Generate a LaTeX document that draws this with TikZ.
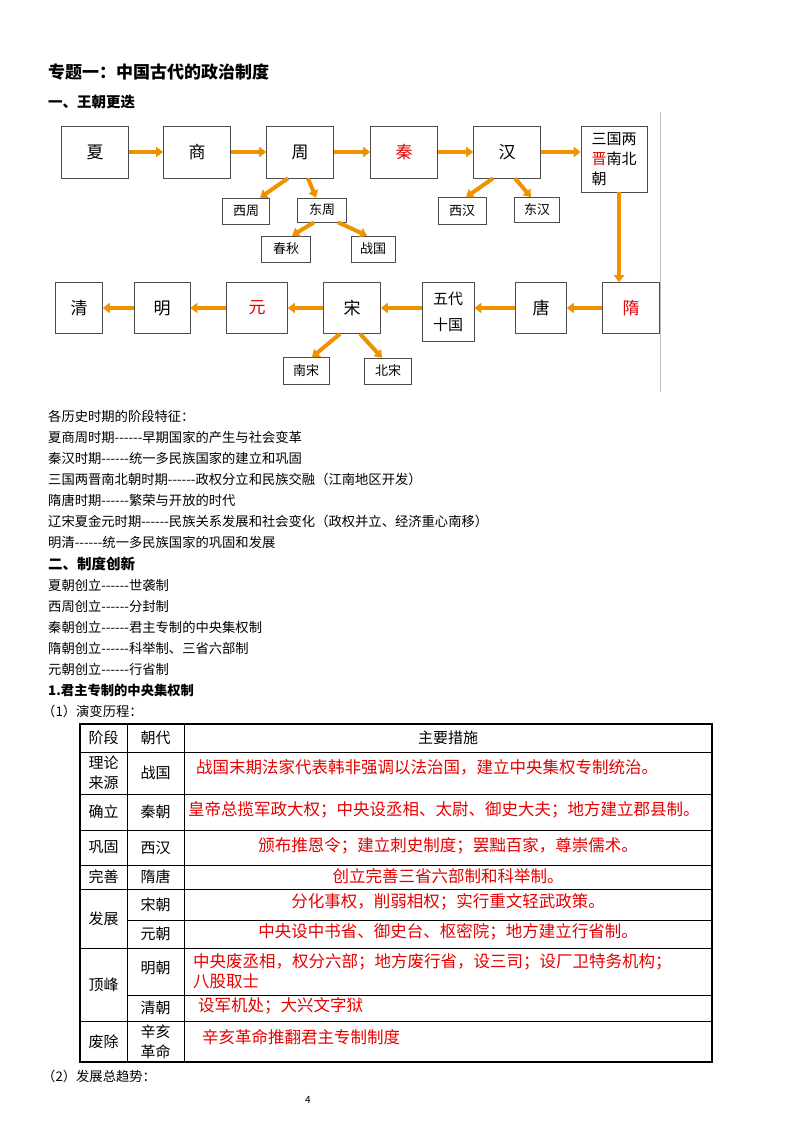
\documentclass[tikz,border=0pt]{standalone}
\usepackage{fontspec}
\setmainfont{Noto Sans CJK SC}
\usetikzlibrary{arrows.meta}
\definecolor{Arrow}{RGB}{238,146,0}
\definecolor{Ink}{RGB}{230,0,0}
\newcommand\dashrun{-{}-{}-{}-{}-{}-}
\tikzset{
  dbox/.style={draw=black!70, line width=0.6pt, inner sep=0pt, font=\fontsize{17}{20}\selectfont},
  sbox/.style={draw=black!70, line width=0.6pt, inner sep=0pt, font=\fontsize{13}{15}\selectfont},
  arr/.style={draw=Arrow, line width=4pt, -{Triangle[length=7pt,width=10pt]}},
  line/.style={anchor=west, inner sep=0pt, font=\fontsize{13.3}{15}\selectfont},
  head/.style={anchor=west, inner sep=0pt, font=\fontsize{14.5}{16}\selectfont\bfseries},
  cell/.style={inner sep=0pt, font=\fontsize{15}{20}\selectfont, align=center},
  red/.style={inner sep=0pt, font=\fontsize{16.5}{20}\selectfont, text=Ink}
}
\begin{document}
\begin{tikzpicture}[x=1pt,y=-1pt]
\useasboundingbox (0,0) rectangle (800,1132);
\node[head, font=\fontsize{17}{19}\selectfont\bfseries] (title) at (48,72) {专题一：中国古代的政治制度};
\node[head] (h1) at (48,102) {一、王朝更迭};
\draw[black!25, line width=0.6pt] (660,112) -- (660,392);

% top row
\node[dbox, minimum width=67pt, minimum height=52pt] (xia) at (95,152) {夏};
\node[dbox, minimum width=67pt, minimum height=52pt] (shang) at (197,152) {商};
\node[dbox, minimum width=67pt, minimum height=52pt] (zhou) at (300,152) {周};
\node[dbox, minimum width=67pt, minimum height=52pt, text=Ink] (qin) at (404,152) {秦};
\node[dbox, minimum width=67pt, minimum height=52pt] (han) at (507,152) {汉};
\node[dbox, minimum width=66pt, minimum height=66pt, align=left, font=\fontsize{15}{20}\selectfont] (sanguo) at (614,159) {三国两\\{\color{Ink}晋}南北\\朝};
% sub boxes
\node[sbox, minimum width=47pt, minimum height=26pt] (xizhou) at (246,211) {西周};
\node[sbox, minimum width=49pt, minimum height=24pt] (dongzhou) at (322,210) {东周};
\node[sbox, minimum width=49pt, minimum height=26pt] (chunqiu) at (286,249) {春秋};
\node[sbox, minimum width=44pt, minimum height=26pt] (zhanguo) at (373,249) {战国};
\node[sbox, minimum width=48pt, minimum height=27pt] (xihan) at (462,211) {西汉};
\node[sbox, minimum width=45pt, minimum height=25pt] (donghan) at (537,210) {东汉};
% bottom row
\node[dbox, minimum width=47pt, minimum height=51pt] (qing) at (79,308) {清};
\node[dbox, minimum width=56pt, minimum height=51pt] (ming) at (162,308) {明};
\node[dbox, minimum width=61pt, minimum height=51pt, text=Ink] (yuan) at (257,308) {元};
\node[dbox, minimum width=57pt, minimum height=51pt] (song) at (352,308) {宋};
\node[dbox, minimum width=52pt, minimum height=59pt, align=left, font=\fontsize{15}{26}\selectfont] (wudai) at (448,312) {五代\\十国};
\node[dbox, minimum width=51pt, minimum height=51pt] (tang) at (541,308) {唐};
\node[dbox, minimum width=57pt, minimum height=51pt, text=Ink] (sui) at (631,308) {隋};
\node[sbox, minimum width=46pt, minimum height=27pt] (nansong) at (306,371) {南宋};
\node[sbox, minimum width=47pt, minimum height=26pt] (beisong) at (388,371) {北宋};

% arrows
\draw[arr] (xia) -- (shang);
\draw[arr] (shang) -- (zhou);
\draw[arr] (zhou) -- (qin);
\draw[arr] (qin) -- (han);
\draw[arr] (han) -- (sanguo.west |- han);
\draw[arr] ([xshift=5pt]sanguo.south) -- ([xshift=-12pt]sui.north);
\draw[arr] (sui) -- (tang);
\draw[arr] (tang) -- (tang -| wudai.east);
\draw[arr] (wudai.west |- song) -- (song);
\draw[arr] (song) -- (yuan);
\draw[arr] (yuan) -- (ming);
\draw[arr] (ming) -- (qing);
\draw[arr] ([xshift=-12pt]zhou.south) -- ([xshift=14pt]xizhou.north);
\draw[arr] ([xshift=8pt]zhou.south) -- ([xshift=-6pt]dongzhou.north);
\draw[arr] ([xshift=-8pt]dongzhou.south) -- ([xshift=6pt]chunqiu.north);
\draw[arr] ([xshift=16pt]dongzhou.south) -- ([xshift=-6pt]zhanguo.north);
\draw[arr] ([xshift=-14pt]han.south) -- ([xshift=4pt]xihan.north);
\draw[arr] ([xshift=8pt]han.south) -- ([xshift=-6pt]donghan.north);
\draw[arr] ([xshift=-12pt]song.south) -- ([xshift=6pt]nansong.north);
\draw[arr] ([xshift=8pt]song.south) -- ([xshift=-6pt]beisong.north);

% text lines
\node[line] (t0) at (48,416) {各历史时期的阶段特征：};
\node[line] (t1) at (48,437) {夏商周时期\dashrun 早期国家的产生与社会变革};
\node[line] (t2) at (48,458) {秦汉时期\dashrun 统一多民族国家的建立和巩固};
\node[line] (t3) at (48,479) {三国两晋南北朝时期\dashrun 政权分立和民族交融（江南地区开发）};
\node[line] (t4) at (48,500) {隋唐时期\dashrun 繁荣与开放的时代};
\node[line] (t5) at (48,521) {辽宋夏金元时期\dashrun 民族关系发展和社会变化（政权并立、经济重心南移）};
\node[line] (t6) at (48,542) {明清\dashrun 统一多民族国家的巩固和发展};
\node[head] (h2) at (48,564) {二、制度创新};
\node[line] (c1) at (48,585) {夏朝创立\dashrun 世袭制};
\node[line] (c2) at (48,606) {西周创立\dashrun 分封制};
\node[line] (c3) at (48,627) {秦朝创立\dashrun 君主专制的中央集权制};
\node[line] (c4) at (48,648) {隋朝创立\dashrun 科举制、三省六部制};
\node[line] (c5) at (48,669) {元朝创立\dashrun 行省制};
\node[head, font=\fontsize{13.3}{15}\selectfont\bfseries] (h3) at (48,690) {1.君主专制的中央集权制};
\node[line] (h4) at (42,711) {（1）演变历程：};

% table
\draw[line width=1.1pt] (80,724) rectangle (712,1062);
\foreach \y in {752,794,830,865,889,948,1021} \draw[line width=1pt] (80,\y) -- (712,\y);
\foreach \y in {920,995} \draw[line width=1pt] (127,\y) -- (712,\y);
\draw[line width=0.9pt] (127,724) -- (127,1062);
\draw[line width=0.9pt] (184,724) -- (184,1062);
\node[cell] (a0) at (103.5,738) {阶段};
\node[cell] (b0) at (155.5,738) {朝代};
\node[cell] (m0) at (448,738) {主要措施};
\node[cell] (a1) at (103.5,773) {理论\\来源};
\node[cell] (b1) at (155.5,773) {战国};
\node[red, anchor=west] (m1) at (196,767) {战国末期法家代表韩非强调以法治国，建立中央集权专制统治。};
\node[cell] (a2) at (103.5,812) {确立};
\node[cell] (b2) at (155.5,812) {秦朝};
\node[red, anchor=west] (m2) at (188,810) {皇帝总揽军政大权；中央设丞相、太尉、御史大夫；地方建立郡县制。};
\node[cell] (a3) at (103.5,847.5) {巩固};
\node[cell] (b3) at (155.5,847.5) {西汉};
\node[red] (m3) at (448,846) {颁布推恩令；建立刺史制度；罢黜百家，尊崇儒术。};
\node[cell] (a4) at (103.5,877) {完善};
\node[cell] (b4) at (155.5,877) {隋唐};
\node[red] (m4) at (448,876) {创立完善三省六部制和科举制。};
\node[cell] (a5) at (103.5,918.5) {发展};
\node[cell] (b5) at (155.5,904.5) {宋朝};
\node[red] (m5) at (448,902) {分化事权，削弱相权；实行重文轻武政策。};
\node[cell] (b6) at (155.5,934) {元朝};
\node[red] (m6) at (448,932) {中央设中书省、御史台、枢密院；地方建立行省制。};
\node[cell] (a7) at (103.5,984.5) {顶峰};
\node[cell] (b7) at (155.5,968) {明朝};
\node[red, anchor=west, align=left] (m7) at (193,971) {中央废丞相，权分六部；地方废行省，设三司；设厂卫特务机构；\\八股取士};
\node[cell] (b8) at (155.5,1008) {清朝};
\node[red, anchor=west] (m8) at (198,1006) {设军机处；大兴文字狱};
\node[cell] (a9) at (103.5,1041.5) {废除};
\node[cell] (b9) at (155.5,1041.5) {辛亥\\革命};
\node[red, anchor=west] (m9) at (202,1037) {辛亥革命推翻君主专制制度};

\node[line] (h5) at (42,1076) {（2）发展总趋势：};
\node[inner sep=0pt, font=\fontsize{10}{12}\selectfont] (pg) at (308,1100) {4};
\end{tikzpicture}
\end{document}
